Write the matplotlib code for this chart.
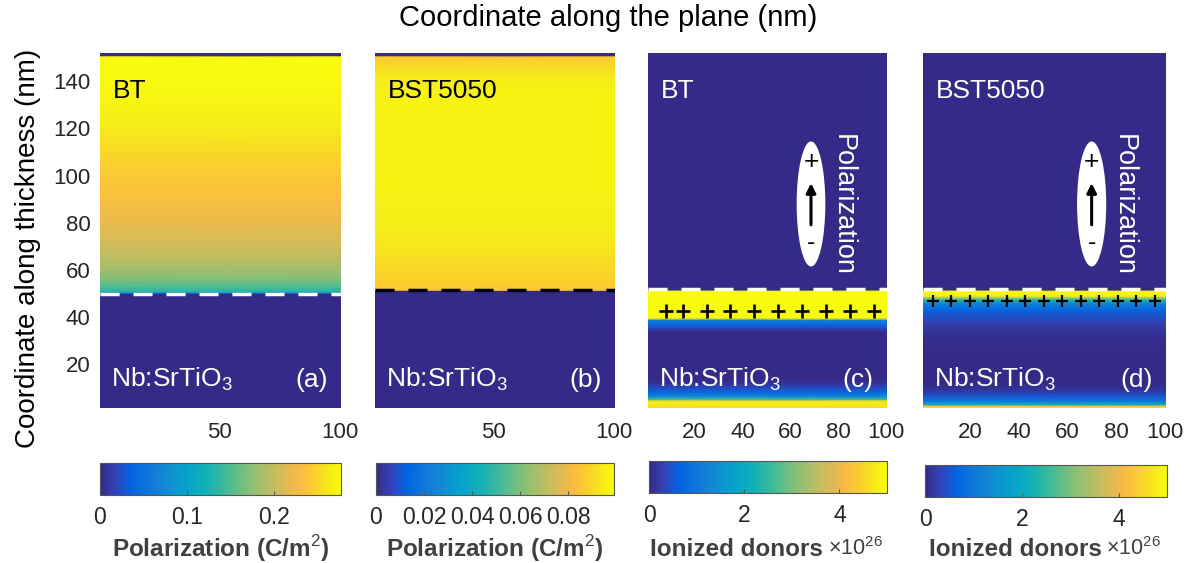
import matplotlib.pyplot as plt
import numpy as np
from matplotlib.colors import LinearSegmentedColormap
from matplotlib.patches import Ellipse

plt.rcParams['font.family'] = ['Liberation Sans', 'DejaVu Sans']
plt.rcParams['mathtext.fontset'] = 'custom'
plt.rcParams['mathtext.rm'] = 'Liberation Sans'
plt.rcParams['mathtext.bf'] = 'Liberation Sans:bold'

# parula-like colour map (every 4th entry of the 64-colour table)
parula_idx = [0, 4, 8, 12, 16, 20, 24, 28, 32, 36, 40, 44, 48, 52, 56, 60, 63]
parula_rgb = [(0.2081, 0.1663, 0.5292), (0.1959, 0.2645, 0.7279), (0.0117, 0.3875, 0.8820),
              (0.0498, 0.4586, 0.8641), (0.0793, 0.5200, 0.8312), (0.0343, 0.5966, 0.8199),
              (0.0228, 0.6535, 0.7768), (0.0843, 0.6928, 0.7062), (0.2178, 0.7250, 0.6193),
              (0.3953, 0.7459, 0.5244), (0.5709, 0.7485, 0.4494), (0.7184, 0.7411, 0.3905),
              (0.8507, 0.7299, 0.3360), (0.9739, 0.7314, 0.2666), (0.9880, 0.8066, 0.1794),
              (0.9598, 0.9218, 0.0948), (0.9763, 0.9831, 0.0538)]
parula = LinearSegmentedColormap.from_list(
    'parula', [(i / 63, c) for i, c in zip(parula_idx, parula_rgb)])

# profiles along thickness (nm); fields are uniform along the plane
x_edges = [0.5, 100.5]

# (a) BT polarization (C/m^2)
y_a = [1.5, 50.0, 50.3, 50.8, 53, 56, 60, 65, 70, 80, 90, 100, 110, 120, 130, 140, 150.6, 150.9, 152]
p_a = [0, 0, 0.06, 0.13, 0.15, 0.168, 0.183, 0.195, 0.205, 0.22, 0.232, 0.242, 0.252, 0.263, 0.27,
       0.275, 0.277, 0, 0]

# (b) BST5050 polarization (C/m^2)
y_b = [1.5, 51.2, 51.5, 55, 60, 70, 80, 100, 120, 135, 142, 148, 150.6, 150.9, 152]
p_b = [0, 0, 0.086, 0.088, 0.09, 0.093, 0.095, 0.097, 0.097, 0.096, 0.094, 0.089, 0.086, 0, 0]

# (c) BT ionized donors (x1e26)
y_c = [1.5, 3.5, 4.5, 5.3, 6.5, 8, 10, 12, 14, 33, 34, 35.5, 37, 38.8, 39.3, 39.8, 51.3, 51.6, 152]
n_c = [4.6, 4.8, 4.6, 2.5, 1.3, 0.8, 0.4, 0.1, 0, 0, 0.05, 0.4, 0.8, 1.2, 3.5, 5.0, 5.0, 0, 0]

# (d) BST5050 ionized donors (x1e26)
y_d = [1.5, 2.3, 3.0, 4.5, 6.5, 9, 12, 25, 30, 35, 38, 42, 44, 46, 47, 48, 49, 51.3, 51.6, 152]
n_d = [4.8, 4.2, 2.0, 1.0, 0.5, 0.15, 0, 0, 0.05, 0.15, 0.3, 0.55, 0.85, 1.3, 2.0, 3.0, 4.8,
       5.0, 0, 0]

vmax_list = [0.277, 0.099, 5.0, 5.0]
cb_ticks = [[0, 0.1, 0.2], [0, 0.02, 0.04, 0.06, 0.08], [0, 2, 4], [0, 2, 4]]
cb_labels = [['0', '0.1', '0.2'], ['0', '0.02', '0.04', '0.06', '0.08'], ['0', '2', '4'], ['0', '2', '4']]
x_ticks = [[50, 100], [50, 100], [20, 40, 60, 80, 100], [20, 40, 60, 80, 100]]
materials = ['BT', 'BST5050', 'BT', 'BST5050']
tags = ['(a)', '(b)', '(c)', '(d)']
iface = [50.0, 51.6, 51.8, 51.8]

# bound charge markers at the interface
plus_c_x = [8, 15, 25, 35, 45, 55, 65, 75, 85, 95]
plus_d_x = [4.6, 12.2, 19.8, 27.4, 35, 42.6, 50.2, 57.8, 65.4, 73, 80.6, 88.2, 95.8]

W, H = 1203, 563
fig = plt.figure(figsize=(W / 100, H / 100), dpi=100)


def box(x0, y0, x1, y1):
    return [x0 / W, 1 - y1 / H, (x1 - x0) / W, (y1 - y0) / H]


ax_px = [(100, 53, 341, 408), (375, 53, 615, 408), (648, 53, 887, 408), (923, 53, 1166, 408)]
cb_px = [(100, 463, 341, 495), (376, 463, 614, 495), (649, 461, 887, 493), (925, 465, 1167, 497)]
profiles = [(y_a, p_a), (y_b, p_b), (y_c, n_c), (y_d, n_d)]

tc = '#262626'
for i in range(4):
    ax = fig.add_axes(box(*ax_px[i]))
    ys, vs = profiles[i]
    X, Y = np.meshgrid(x_edges, ys)
    Z = np.column_stack([vs, vs])
    m = ax.pcolormesh(X, Y, Z, cmap=parula, vmin=0, vmax=vmax_list[i], shading='gouraud')
    ax.set_xlim(0.5, 100.5)
    ax.set_ylim(1.5, 152)
    for s in ax.spines.values():
        s.set_visible(False)
    ax.set_xticks(x_ticks[i])
    if i == 0:
        ax.set_yticks([20, 40, 60, 80, 100, 120, 140])
    else:
        ax.set_yticks([])
    ax.tick_params(length=0, labelsize=16, labelcolor=tc)
    ax.tick_params(axis='x', pad=10)
    ax.tick_params(axis='y', pad=7)

    dash_col = 'k' if i == 1 else 'white'
    ax.axhline(iface[i], color=dash_col, lw=2.5, dashes=(5.5, 4))

    top_col = 'k' if i < 2 else 'white'
    ax.text(6, 136, materials[i], color=top_col, fontsize=19, va='center', ha='left')
    ax.text(5, 13.5, 'Nb:SrTiO$_3$', color='white', fontsize=19, va='center', ha='left')
    ax.text(95, 13.5, tags[i], color='white', fontsize=19, va='center', ha='right')

    if i >= 2:
        cx = 68.7 if i == 2 else 69.9
        ax.add_patch(Ellipse((cx, 88), 12, 53, facecolor='white', edgecolor='none'))
        ax.text(cx, 106, '+', color='k', fontsize=19, ha='center', va='center')
        ax.text(cx, 71.5, '-', color='k', fontsize=18, ha='center', va='center')
        ax.annotate('', xy=(cx, 98), xytext=(cx, 78),
                    arrowprops=dict(arrowstyle='-|>', color='k', lw=2.2, mutation_scale=14))
        ax.text(cx + 13.2, 87.5, 'Polarization', color='white', fontsize=19.5,
                rotation=-90, ha='center', va='center')
        if i == 2:
            ax.plot(plus_c_x, [42.5] * len(plus_c_x), '+', color='k', ms=10, mew=1.9)
        else:
            ax.plot(plus_d_x, [46.7] * len(plus_d_x), '+', color='k', ms=8.5, mew=1.6)

    cax = fig.add_axes(box(*cb_px[i]))
    cb = fig.colorbar(m, cax=cax, orientation='horizontal')
    cb.set_ticks(cb_ticks[i])
    cb.set_ticklabels(cb_labels[i])
    cb.ax.tick_params(direction='in', length=3, width=0.8, color='#555555',
                      labelsize=16.5, labelcolor=tc, pad=8)
    cb.outline.set_edgecolor('#555555')
    cb.outline.set_linewidth(0.8)

    cxm = (cb_px[i][0] + cb_px[i][2]) / 2 / W
    if i < 2:
        fig.text(cxm, 1 - 549 / H, 'Polarization (C/m$^2$)', fontsize=17.5, fontweight='bold',
                 color='#404040', ha='center', va='center')
    else:
        xs = (cb_px[i][0] + 0.73 * (cb_px[i][2] - cb_px[i][0])) / W
        fig.text(xs, 1 - 549 / H, 'Ionized donors', fontsize=17.5, fontweight='bold',
                 color='#404040', ha='right', va='center')
        fig.text(xs + 0.004, 1 - 549 / H, r'$\times$10$^{26}$', fontsize=15.5,
                 color='#404040', ha='left', va='center')

fig.text(608 / W, 1 - 18 / H, 'Coordinate along the plane (nm)', fontsize=21,
         color='k', ha='center', va='center')
fig.text(28 / W, 1 - 248 / H, 'Coordinate along thickness (nm)', fontsize=20,
         color='k', ha='center', va='center', rotation=90)

fig.savefig('out.png', dpi=100)
